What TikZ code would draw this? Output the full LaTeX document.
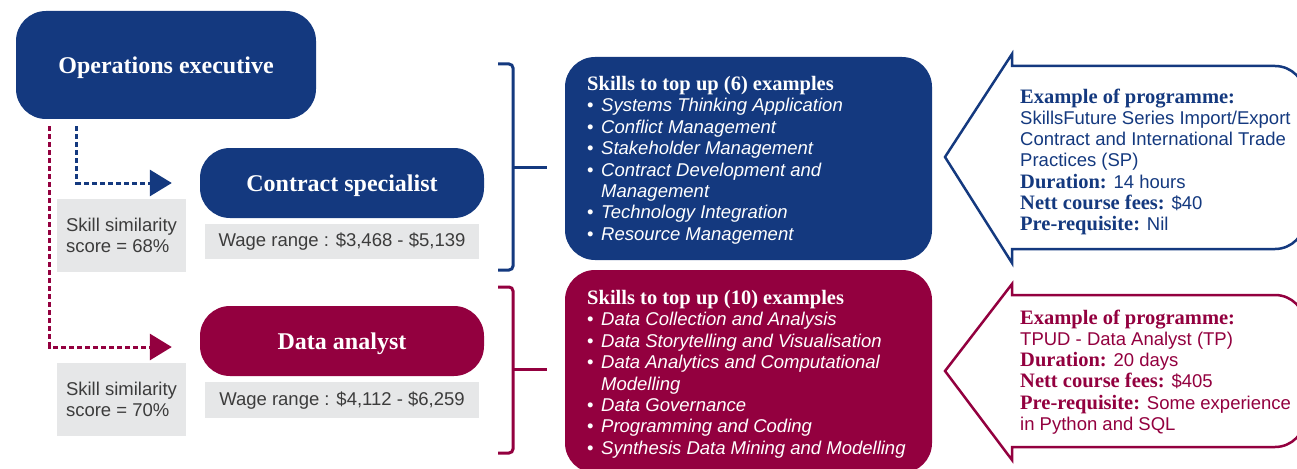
\documentclass[tikz,border=0pt]{standalone}
\usepackage{fontspec}
\setmainfont{Liberation Serif}
\newfontfamily\skillfont{Liberation Sans}
\usetikzlibrary{arrows.meta,positioning}

\definecolor{opsblue}{HTML}{14397F}
\definecolor{opsred}{HTML}{93003F}
\definecolor{wagegrey}{HTML}{E6E7E8}
\definecolor{wagetext}{HTML}{3C3C3C}

\newcommand\headfont{\rmfamily\bfseries\fontsize{20.5}{21.4}\selectfont}
\newcommand\skillitem[1]{\makebox[14pt][l]{•}\textit{#1}}
\newcommand\skillmore[1]{\hspace*{14pt}\textit{#1}}

\begin{document}
\begin{tikzpicture}[x=1pt,y=-1pt,
    jobbox/.style={fill=#1, rounded corners=30pt, minimum width=284pt, minimum height=70pt,
      inner sep=0pt, text depth=0pt, text=white, font=\bfseries\fontsize{24}{26}\selectfont},
    greybox/.style={fill=wagegrey, text=wagetext, inner sep=0pt, align=left,
      font=\skillfont\fontsize{18.5}{21.5}\selectfont},
    skillbox/.style={fill=#1, rounded corners=30pt, minimum width=367pt, minimum height=203pt, inner sep=0pt},
    skilltext/.style={text=white, align=left, anchor=north west, inner sep=0pt,
      font=\skillfont\fontsize{18.5}{21.4}\selectfont},
    progarrow/.style={draw=#1, line width=2.5pt, fill=white},
    progtext/.style={text=#1, align=left, anchor=north west, inner sep=0pt,
      font=\skillfont\fontsize{18.5}{21.1}\selectfont},
    brace/.style={draw=#1, line width=3pt, rounded corners=4pt},
    move/.style={draw=#1, line width=3pt, dash pattern=on 5pt off 3pt,
      -{Triangle[width=26pt,length=22pt]}, shorten >=28pt}]
    \useasboundingbox (0,0) rectangle (1297,468);

    % job roles
    \node[jobbox=opsblue, minimum width=300pt, minimum height=108pt] (ops) at (166,65) {Operations executive};
    \node[jobbox=opsblue] (cs) at (342,183) {Contract specialist};
    \node[jobbox=opsred] (da) at (342,341) {Data analyst};

    \node[greybox, minimum width=274pt, minimum height=35pt, below=6pt of cs] (wageA) {Wage range : \$3,468 - \$5,139};
    \node[greybox, minimum width=274pt, minimum height=36pt, below=6pt of da] (wageB) {Wage range : \$4,112 - \$6,259};
    \node[greybox, minimum width=129pt, minimum height=73pt] (simA) at (121.5,235.5) {Skill similarity\\score = 68\%};
    \node[greybox, minimum width=129pt, minimum height=73pt] (simB) at (121.5,399.5) {Skill similarity\\score = 70\%};

    \draw[move=opsblue] ([shift={(61,7)}]ops.south west) |- (cs.west);
    \draw[move=opsred] ([shift={(34,7)}]ops.south west) |- ([yshift=-6pt]da.west);

    % braces
    \draw[brace=opsblue] (498,64) -- (513,64) -- (513,270) -- (498,270);
    \draw[brace=opsblue] (513,167) -- (547,167);
    \draw[brace=opsred] (498,287) -- (513,287) -- (513,453) -- (498,453);
    \draw[brace=opsred] (513,369) -- (547,369);

    % skills to top up
    \node[skillbox=opsblue] (topA) at (748.5,158.5) {};
    \node[skillbox=opsred] (topB) at (748.5,371.5) {};
    \node[skilltext] (listA) at (587,76) {{\headfont Skills to top up (6) examples}\\
      \skillitem{Systems Thinking Application}\\
      \skillitem{Conflict Management}\\
      \skillitem{Stakeholder Management}\\
      \skillitem{Contract Development and}\\
      \skillmore{Management}\\
      \skillitem{Technology Integration}\\
      \skillitem{Resource Management}};
    \node[skilltext] (listB) at (587,290) {{\headfont Skills to top up (10) examples}\\
      \skillitem{Data Collection and Analysis}\\
      \skillitem{Data Storytelling and Visualisation}\\
      \skillitem{Data Analytics and Computational}\\
      \skillmore{Modelling}\\
      \skillitem{Data Governance}\\
      \skillitem{Programming and Coding}\\
      \skillitem{Synthesis Data Mining and Modelling}};

    % programmes
    \draw[progarrow=opsblue] (1150,66) [rounded corners=30pt] -- (1305,66) -- (1305,249) -- (1150,249)
      [sharp corners] -- (1012,249) -- (1012,263) -- (945,157) -- (1012,54) -- (1012,66) -- cycle;
    \draw[progarrow=opsred] (1150,295) [rounded corners=30pt] -- (1305,295) -- (1305,447) -- (1150,447)
      [sharp corners] -- (1012,447) -- (1012,460) -- (945,371) -- (1012,284) -- (1012,295) -- cycle;
    \node[progtext=opsblue] (progA) at (1020,89) {{\headfont Example of programme:}\\
      SkillsFuture Series Import/Export\\
      Contract and International Trade\\
      Practices (SP)\\
      {\headfont Duration:} 14 hours\\
      {\headfont Nett course fees:} \$40\\
      {\headfont Pre-requisite:} Nil};
    \node[progtext=opsred] (progB) at (1020,310) {{\headfont Example of programme:}\\
      TPUD - Data Analyst (TP)\\
      {\headfont Duration:} 20 days\\
      {\headfont Nett course fees:} \$405\\
      {\headfont Pre-requisite:} Some experience\\
      in Python and SQL};
\end{tikzpicture}
\end{document}
